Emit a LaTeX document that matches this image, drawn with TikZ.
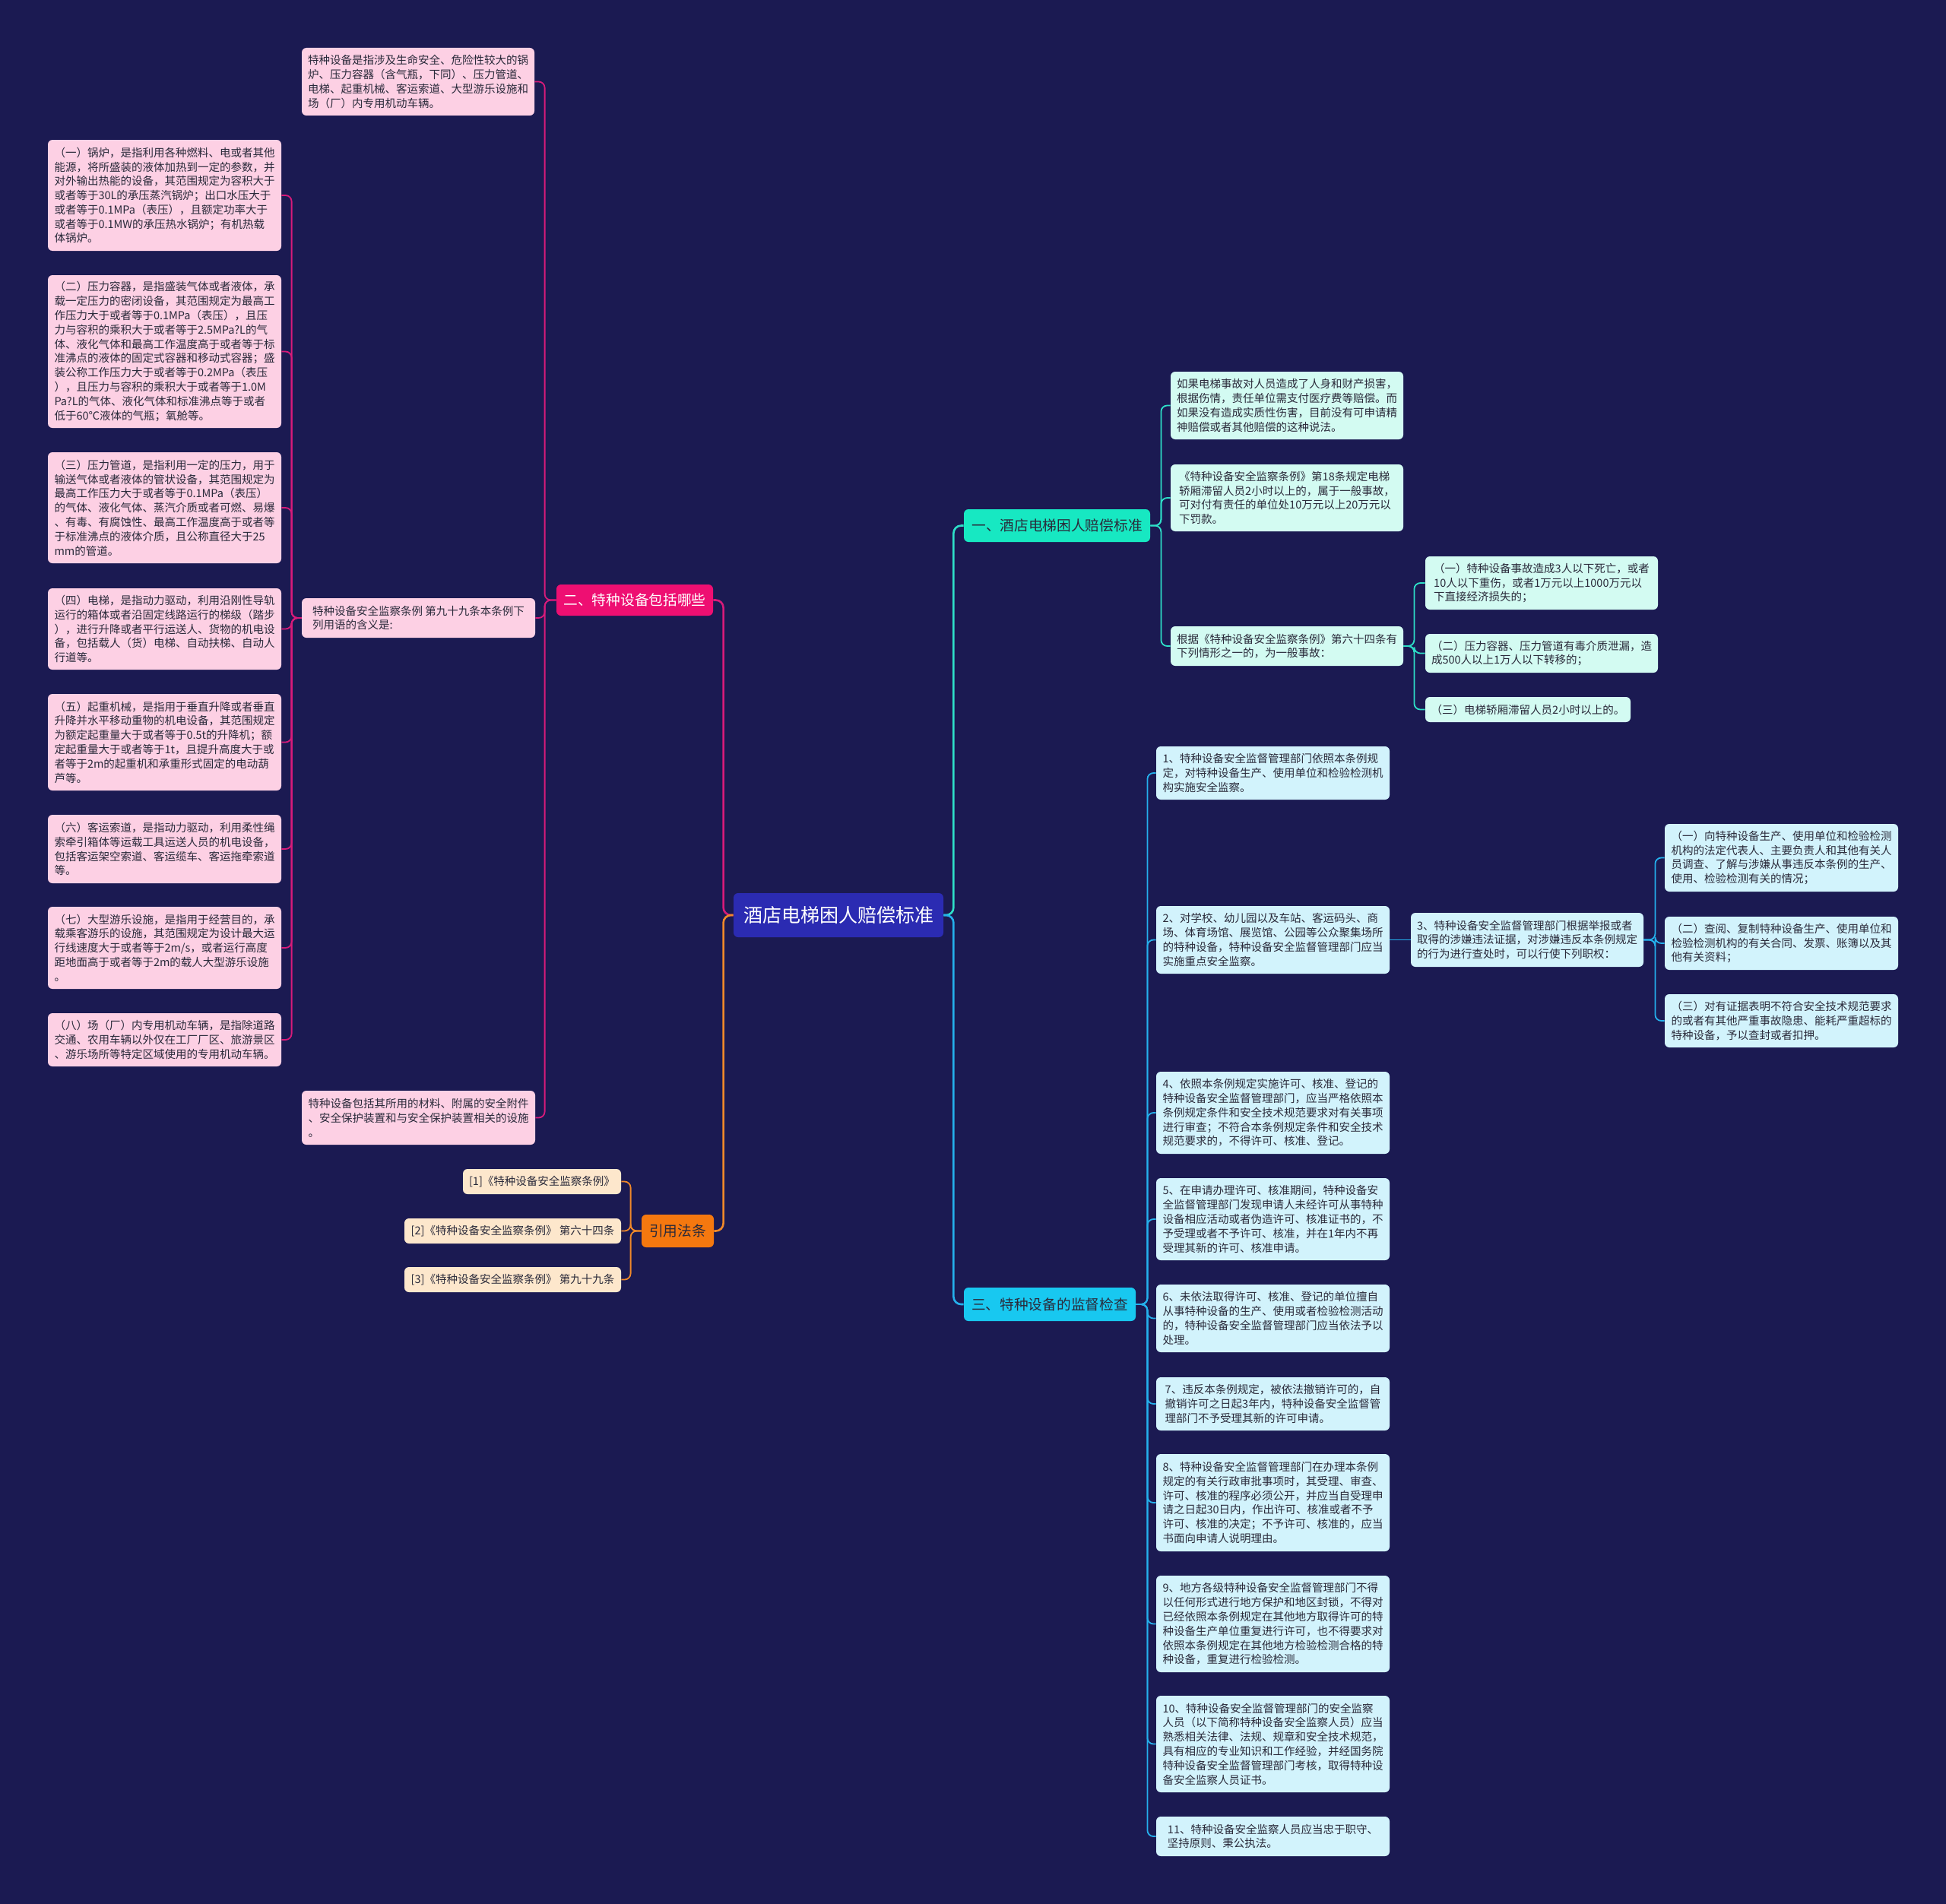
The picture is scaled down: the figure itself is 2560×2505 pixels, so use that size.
\documentclass[tikz,border=0pt]{standalone}
\usepackage{fontspec}
\setmainfont{Noto Sans CJK SC}
\definecolor{bg}{HTML}{1B1A52}
\definecolor{ctr}{HTML}{2B2BB2}
\definecolor{bA}{HTML}{17E8C2}
\definecolor{bB}{HTML}{EE0F72}
\definecolor{bC}{HTML}{18C8F0}
\definecolor{bD}{HTML}{F5780F}
\definecolor{lA}{HTML}{D3FBF2}
\definecolor{lB}{HTML}{FDD0E4}
\definecolor{lC}{HTML}{D2F3FC}
\definecolor{lD}{HTML}{FDE7CC}
\definecolor{cA}{HTML}{2EDFC8}
\definecolor{cB}{HTML}{D81B7A}
\definecolor{cC}{HTML}{25B0EC}
\definecolor{cD}{HTML}{F0892A}
\definecolor{txt}{HTML}{2A2A3A}
\tikzset{
  box/.style={rectangle, rounded corners=3pt, align=left, inner sep=2pt},
  leaf/.style={box, text=txt, font=\fontsize{7.25pt}{9.4pt}\selectfont},
  leafA/.style={leaf, fill=lA},
  leafB/.style={leaf, fill=lB},
  leafC/.style={leaf, fill=lC},
  leafD/.style={leaf, fill=lD},
  branch/.style={box, align=center, font=\fontsize{9.35pt}{11pt}\selectfont},
  root/.style={box, align=center, fill=ctr, text=white, font=\fontsize{12.5pt}{14pt}\selectfont},
  conn/.style={rounded corners=4pt, line width=0.9pt},
  mainconn/.style={rounded corners=5pt, line width=1.3pt}
}
\newcommand\bx[7]{\node[#2,minimum width={(#5-#3)*0.5pt},minimum height={(#6-#4)*0.5pt}] (#1) at ({(#3+#5)/2},{(#4+#6)/2}) {#7};}
\begin{document}
\begin{tikzpicture}[x=0.5pt,y=-0.5pt]
\fill[bg] (0,0) rectangle (2560,2505);
\useasboundingbox (0,0) rectangle (2560,2505);

% root and branches
\bx{root}{root}{965}{1175}{1241}{1233}{酒店电梯困人赔偿标准}
\bx{b1}{branch,fill=bA,text=txt}{1268}{670}{1513}{713}{一、酒店电梯困人赔偿标准}
\bx{b3}{branch,fill=bC,text=txt}{1268}{1694}{1494}{1738}{三、特种设备的监督检查}
\bx{b2}{branch,fill=bB,text=white}{732}{769}{938}{810}{二、特种设备包括哪些}
\bx{b4}{branch,fill=bD,text=txt}{844}{1598}{939}{1641}{引用法条}

% branch 2 children
\bx{t1}{leafB}{397}{63}{703}{152}{特种设备是指涉及生命安全、危险性较大的锅\\炉、压力容器（含气瓶，下同）、压力管道、\\电梯、起重机械、客运索道、大型游乐设施和\\场（厂）内专用机动车辆。}
\bx{t2}{leafB}{397}{787}{704}{839}{特种设备安全监察条例 第九十九条本条例下\\列用语的含义是:}
\bx{t3}{leafB}{397}{1435}{704}{1506}{特种设备包括其所用的材料、附属的安全附件\\、安全保护装置和与安全保护装置相关的设施\\。}

\bx{k1}{leafB}{63}{184}{370}{330}{（一）锅炉，是指利用各种燃料、电或者其他\\能源，将所盛装的液体加热到一定的参数，并\\对外输出热能的设备，其范围规定为容积大于\\或者等于30L的承压蒸汽锅炉；出口水压大于\\或者等于0.1MPa（表压），且额定功率大于\\或者等于0.1MW的承压热水锅炉；有机热载\\体锅炉。}
\bx{k2}{leafB}{63}{362}{370}{563}{（二）压力容器，是指盛装气体或者液体，承\\载一定压力的密闭设备，其范围规定为最高工\\作压力大于或者等于0.1MPa（表压），且压\\力与容积的乘积大于或者等于2.5MPa?L的气\\体、液化气体和最高工作温度高于或者等于标\\准沸点的液体的固定式容器和移动式容器；盛\\装公称工作压力大于或者等于0.2MPa（表压\\），且压力与容积的乘积大于或者等于1.0M\\Pa?L的气体、液化气体和标准沸点等于或者\\低于60℃液体的气瓶；氧舱等。}
\bx{k3}{leafB}{63}{595}{370}{741}{（三）压力管道，是指利用一定的压力，用于\\输送气体或者液体的管状设备，其范围规定为\\最高工作压力大于或者等于0.1MPa（表压）\\的气体、液化气体、蒸汽介质或者可燃、易爆\\、有毒、有腐蚀性、最高工作温度高于或者等\\于标准沸点的液体介质，且公称直径大于25\\mm的管道。}
\bx{k4}{leafB}{63}{774}{370}{881}{（四）电梯，是指动力驱动，利用沿刚性导轨\\运行的箱体或者沿固定线路运行的梯级（踏步\\），进行升降或者平行运送人、货物的机电设\\备，包括载人（货）电梯、自动扶梯、自动人\\行道等。}
\bx{k5}{leafB}{63}{913}{370}{1040}{（五）起重机械，是指用于垂直升降或者垂直\\升降并水平移动重物的机电设备，其范围规定\\为额定起重量大于或者等于0.5t的升降机；额\\定起重量大于或者等于1t，且提升高度大于或\\者等于2m的起重机和承重形式固定的电动葫\\芦等。}
\bx{k6}{leafB}{63}{1072}{370}{1162}{（六）客运索道，是指动力驱动，利用柔性绳\\索牵引箱体等运载工具运送人员的机电设备，\\包括客运架空索道、客运缆车、客运拖牵索道\\等。}
\bx{k7}{leafB}{63}{1193}{370}{1301}{（七）大型游乐设施，是指用于经营目的，承\\载乘客游乐的设施，其范围规定为设计最大运\\行线速度大于或者等于2m/s，或者运行高度\\距地面高于或者等于2m的载人大型游乐设施\\。}
\bx{k8}{leafB}{63}{1333}{370}{1403}{（八）场（厂）内专用机动车辆，是指除道路\\交通、农用车辆以外仅在工厂厂区、旅游景区\\、游乐场所等特定区域使用的专用机动车辆。}

% branch 4 children
\bx{r1}{leafD}{609}{1538}{817}{1571}{[1]《特种设备安全监察条例》}
\bx{r2}{leafD}{532}{1603}{817}{1636}{[2]《特种设备安全监察条例》 第六十四条}
\bx{r3}{leafD}{532}{1667}{817}{1700}{[3]《特种设备安全监察条例》 第九十九条}

% branch 1 children
\bx{a1}{leafA}{1540}{489}{1846}{578}{如果电梯事故对人员造成了人身和财产损害，\\根据伤情，责任单位需支付医疗费等赔偿。而\\如果没有造成实质性伤害，目前没有可申请精\\神赔偿或者其他赔偿的这种说法。}
\bx{a2}{leafA}{1540}{611}{1846}{699}{《特种设备安全监察条例》第18条规定电梯\\轿厢滞留人员2小时以上的，属于一般事故，\\可对付有责任的单位处10万元以上20万元以\\下罚款。}
\bx{a3}{leafA}{1540}{824}{1846}{876}{根据《特种设备安全监察条例》第六十四条有\\下列情形之一的，为一般事故：}
\bx{a31}{leafA}{1875}{732}{2181}{802}{（一）特种设备事故造成3人以下死亡，或者\\10人以下重伤，或者1万元以上1000万元以\\下直接经济损失的；}
\bx{a32}{leafA}{1875}{834}{2181}{885}{（二）压力容器、压力管道有毒介质泄漏，造\\成500人以上1万人以下转移的；}
\bx{a33}{leafA}{1875}{917}{2145}{950}{（三）电梯轿厢滞留人员2小时以上的。}

% branch 3 children
\bx{s1}{leafC}{1521}{982}{1828}{1052}{1、特种设备安全监督管理部门依照本条例规\\定，对特种设备生产、使用单位和检验检测机\\构实施安全监察。}
\bx{s2}{leafC}{1521}{1192}{1828}{1281}{2、对学校、幼儿园以及车站、客运码头、商\\场、体育场馆、展览馆、公园等公众聚集场所\\的特种设备，特种设备安全监督管理部门应当\\实施重点安全监察。}
\bx{s3}{leafC}{1856}{1201}{2162}{1272}{3、特种设备安全监督管理部门根据举报或者\\取得的涉嫌违法证据，对涉嫌违反本条例规定\\的行为进行查处时，可以行使下列职权：}
\bx{s31}{leafC}{2190}{1084}{2497}{1173}{（一）向特种设备生产、使用单位和检验检测\\机构的法定代表人、主要负责人和其他有关人\\员调查、了解与涉嫌从事违反本条例的生产、\\使用、检验检测有关的情况；}
\bx{s32}{leafC}{2190}{1206}{2497}{1276}{（二）查阅、复制特种设备生产、使用单位和\\检验检测机构的有关合同、发票、账簿以及其\\他有关资料；}
\bx{s33}{leafC}{2190}{1308}{2497}{1378}{（三）对有证据表明不符合安全技术规范要求\\的或者有其他严重事故隐患、能耗严重超标的\\特种设备，予以查封或者扣押。}
\bx{s4}{leafC}{1521}{1410}{1828}{1518}{4、依照本条例规定实施许可、核准、登记的\\特种设备安全监督管理部门，应当严格依照本\\条例规定条件和安全技术规范要求对有关事项\\进行审查；不符合本条例规定条件和安全技术\\规范要求的，不得许可、核准、登记。}
\bx{s5}{leafC}{1521}{1550}{1828}{1658}{5、在申请办理许可、核准期间，特种设备安\\全监督管理部门发现申请人未经许可从事特种\\设备相应活动或者伪造许可、核准证书的，不\\予受理或者不予许可、核准，并在1年内不再\\受理其新的许可、核准申请。}
\bx{s6}{leafC}{1521}{1690}{1828}{1779}{6、未依法取得许可、核准、登记的单位擅自\\从事特种设备的生产、使用或者检验检测活动\\的，特种设备安全监督管理部门应当依法予以\\处理。}
\bx{s7}{leafC}{1521}{1812}{1828}{1882}{7、违反本条例规定，被依法撤销许可的，自\\撤销许可之日起3年内，特种设备安全监督管\\理部门不予受理其新的许可申请。}
\bx{s8}{leafC}{1521}{1913}{1828}{2041}{8、特种设备安全监督管理部门在办理本条例\\规定的有关行政审批事项时，其受理、审查、\\许可、核准的程序必须公开，并应当自受理申\\请之日起30日内，作出许可、核准或者不予\\许可、核准的决定；不予许可、核准的，应当\\书面向申请人说明理由。}
\bx{s9}{leafC}{1521}{2073}{1828}{2200}{9、地方各级特种设备安全监督管理部门不得\\以任何形式进行地方保护和地区封锁，不得对\\已经依照本条例规定在其他地方取得许可的特\\种设备生产单位重复进行许可，也不得要求对\\依照本条例规定在其他地方检验检测合格的特\\种设备，重复进行检验检测。}
\bx{s10}{leafC}{1521}{2231}{1828}{2358}{10、特种设备安全监督管理部门的安全监察\\人员（以下简称特种设备安全监察人员）应当\\熟悉相关法律、法规、规章和安全技术规范，\\具有相应的专业知识和工作经验，并经国务院\\特种设备安全监督管理部门考核，取得特种设\\备安全监察人员证书。}
\bx{s11}{leafC}{1521}{2390}{1828}{2442}{11、特种设备安全监察人员应当忠于职守、\\坚持原则、秉公执法。}

% main connectors
\draw[mainconn, cA] (root.east) -- ++(13,0) |- (b1.west);
\draw[mainconn, cC] (root.east) -- ++(13,0) |- (b3.west);
\draw[mainconn, cB] (root.west) -- ++(-13,0) |- (b2.east);
\draw[mainconn, cD] (root.west) -- ++(-13,0) |- (b4.east);

% branch 2
\foreach \c in {t1,t2,t3} \draw[conn, cB] (b2.west) -- ++(-15,0) |- (\c.east);
\foreach \c in {k1,k2,k3,k4,k5,k6,k7,k8} \draw[conn, cB] (t2.west) -- ++(-13,0) |- (\c.east);
% branch 4
\foreach \c in {r1,r2,r3} \draw[conn, cD] (b4.west) -- ++(-14,0) |- (\c.east);
% branch 1
\foreach \c in {a1,a2,a3} \draw[conn, cA] (b1.east) -- ++(14,0) |- (\c.west);
\foreach \c in {a31,a32,a33} \draw[conn, cA] (a3.east) -- ++(14,0) |- (\c.west);
% branch 3
\foreach \c in {s1,s2,s4,s5,s6,s7,s8,s9,s10,s11} \draw[conn, cC] (b3.east) -- ++(15,0) |- (\c.west);
\draw[conn, cC] (s2.east) -- (s3.west);
\foreach \c in {s31,s32,s33} \draw[conn, cC] (s3.east) -- ++(15,0) |- (\c.west);
\end{tikzpicture}
\end{document}
